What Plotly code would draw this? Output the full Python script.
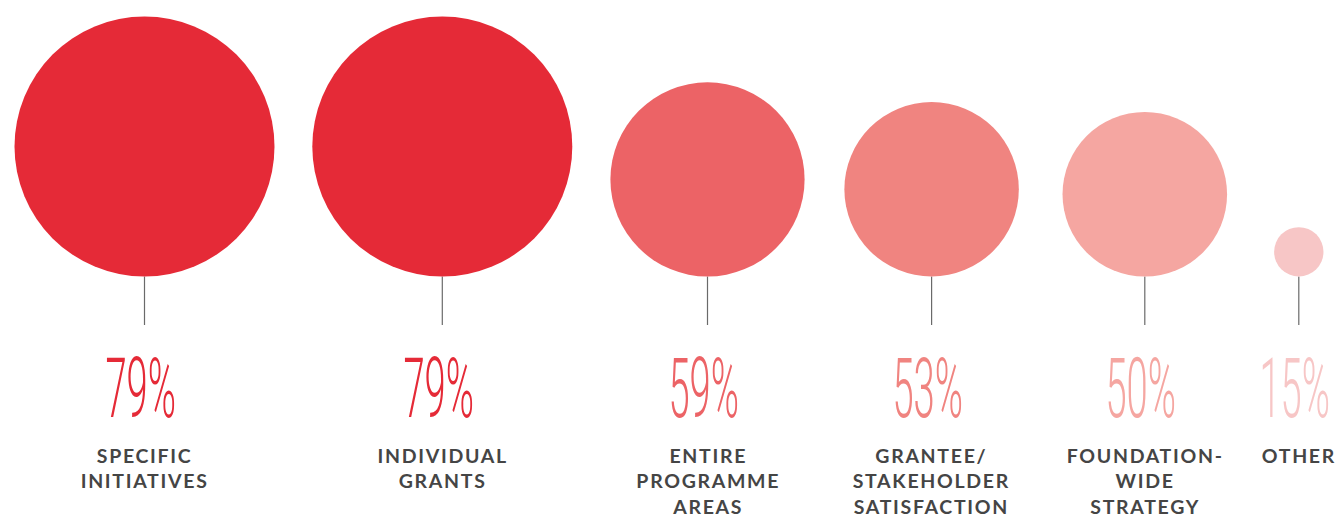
import plotly.graph_objects as go

# ---- data -------------------------------------------------------------
categories = [
    "SPECIFIC<br>INITIATIVES",
    "INDIVIDUAL<br>GRANTS",
    "ENTIRE<br>PROGRAMME<br>AREAS",
    "GRANTEE/<br>STAKEHOLDER<br>SATISFACTION",
    "FOUNDATION-<br>WIDE<br>STRATEGY",
    "OTHER",
]
shares = [79, 79, 59, 53, 50, 15]
colors = ["#E52A37", "#E52A37", "#EC6366", "#F08480", "#F5A6A1", "#F7C6C6"]

# ---- layout (pixel space of the canvas) -------------------------------
W, H = 1336, 520
x_centers = [144.5, 442.3, 707.5, 931.6, 1144.8, 1298.8]
px_per_point = 130 / 79          # circle radius grows linearly with the share
baseline = 276.5                 # bottom edge of every circle
stem_end = 325
pct_y = 388
label_top = 442.5

radii = [v * px_per_point for v in shares]
y_centers = [baseline - r for r in radii]

fig = go.Figure()

# stems under the bubbles
stem_x, stem_y = [], []
for cx in x_centers:
    stem_x += [cx, cx, None]
    stem_y += [baseline, stem_end, None]
fig.add_trace(go.Scatter(
    x=stem_x, y=stem_y, mode="lines",
    line=dict(color="#6a6a6a", width=1.2),
    hoverinfo="skip", showlegend=False,
))

# bubbles
fig.add_trace(go.Scatter(
    x=x_centers, y=y_centers, mode="markers",
    marker=dict(size=[2 * r for r in radii], sizemode="diameter",
                color=colors, opacity=1, line=dict(width=0)),
    hovertext=[f"{c.replace('<br>', ' ')}: {v}%" for c, v in zip(categories, shares)],
    hoverinfo="text", showlegend=False,
))

annotations = []
for cx, v, col in zip(x_centers, shares, colors):
    annotations.append(dict(
        x=cx - 4, y=pct_y, xref="x", yref="y", text=f"{v}%",
        showarrow=False, xanchor="center", yanchor="middle",
        font=dict(family="Roboto, Lato, Inter, sans-serif", size=83,
                  color=col, weight=300),
    ))
for cx, cat in zip(x_centers, categories):
    annotations.append(dict(
        x=cx, y=label_top, xref="x", yref="y", text=cat,
        showarrow=False, xanchor="center", yanchor="top", align="center",
        borderpad=0,
        font=dict(family="Lato, 'Open Sans', sans-serif", size=19.5,
                  color="#454545", weight=700),
    ))

fig.update_layout(
    width=W, height=H,
    margin=dict(l=0, r=0, t=0, b=0),
    paper_bgcolor="white", plot_bgcolor="white",
    xaxis=dict(range=[0, W], visible=False, fixedrange=True),
    yaxis=dict(range=[H, 0], visible=False, fixedrange=True),
    annotations=annotations,
    hovermode="closest",
)

# condensed numerals and tracked-out caps for the labels
post = """
var gd = document.getElementById('{plot_id}');
gd.querySelectorAll('.annotation').forEach(function(a){
  var i = parseInt(a.getAttribute('data-index'));
  var t = a.querySelector('text.annotation-text');
  if (!t) return;
  if (i < 6) {
    t.style.transformBox = 'fill-box';
    t.style.transformOrigin = '50% 50%';
    t.style.transform = 'scaleX(0.46)';
  } else {
    t.style.letterSpacing = '1.7px';
  }
});
"""

fig.write_html("out.html", config={"displayModeBar": False}, post_script=post)
